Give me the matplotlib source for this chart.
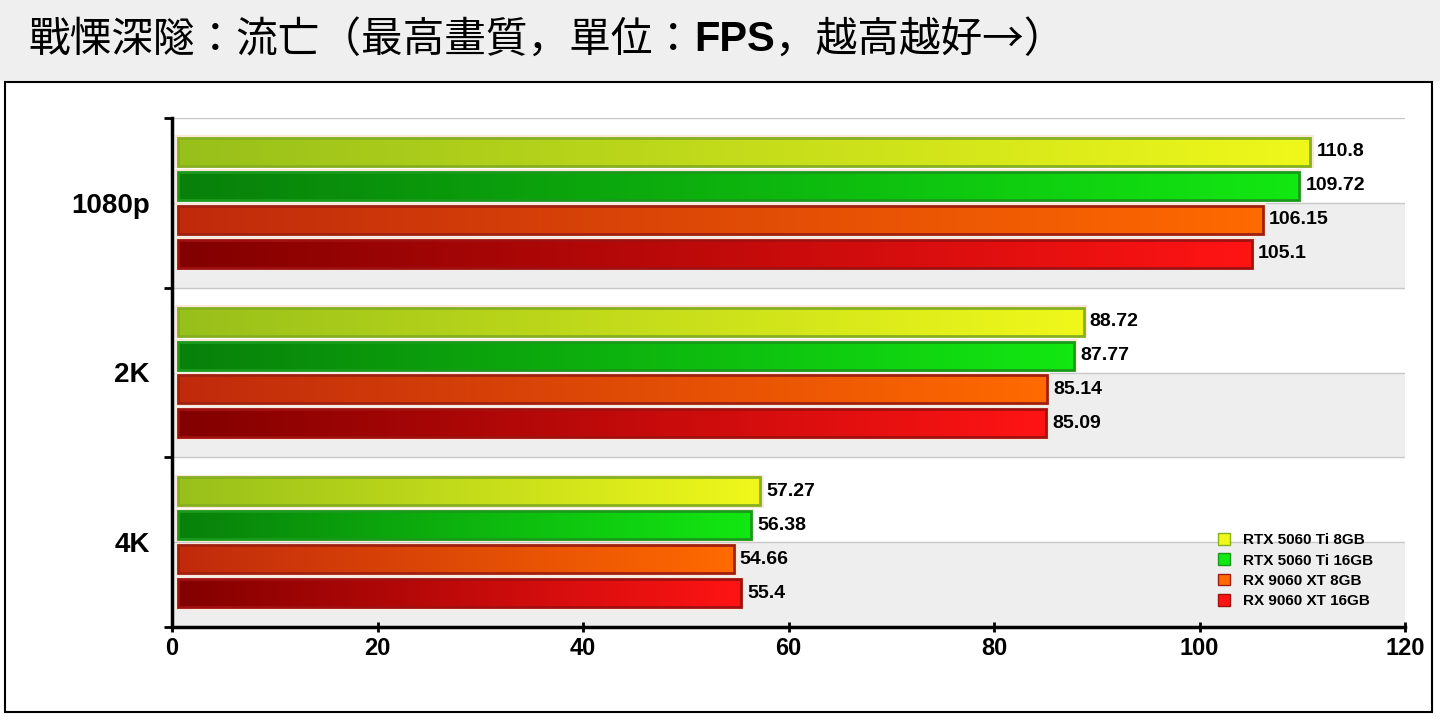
import matplotlib
matplotlib.use("Agg")
import matplotlib.pyplot as plt
import numpy as np
from matplotlib.colors import LinearSegmentedColormap
from matplotlib.patches import Rectangle

categories = ["1080p", "2K", "4K"]
series = ["RTX 5060 Ti 8GB", "RTX 5060 Ti 16GB", "RX 9060 XT 8GB", "RX 9060 XT 16GB"]
v1 = [110.8, 88.72, 57.27]
v2 = [109.72, 87.77, 56.38]
v3 = [106.15, 85.14, 54.66]
v4 = [105.1, 85.09, 55.4]
labels = [["110.8", "88.72", "57.27"], ["109.72", "87.77", "56.38"],
          ["106.15", "85.14", "54.66"], ["105.1", "85.09", "55.4"]]
values = [v1, v2, v3, v4]
grads = [("#98c01a", "#f0f81a", "#86b020"), ("#08800a", "#12e812", "#1a9a1a"),
         ("#c02a0c", "#ff6a00", "#a02010"), ("#820000", "#ff1414", "#a01010")]

CJK = ["Noto Sans CJK TC", "Noto Sans CJK JP", "Noto Sans CJK SC", "DejaVu Sans"]
plt.rcParams["font.family"] = ["Liberation Sans"]
fig = plt.figure(figsize=(14.4, 7.2), dpi=100)
fig.patch.set_facecolor("white")
fig.add_artist(Rectangle((0, 1 - 80/720), 1, 80/720, transform=fig.transFigure,
                         color="#efefef", zorder=0))
fig.add_artist(Rectangle((5/1440, 8/720), 1427/1440, 630/720, transform=fig.transFigure,
                         fill=False, ec="black", lw=1.5))
ty = 1 - 40/720
t1 = fig.text(28/1440, ty, "戰慄深隧：流亡（最高畫質，單位：", fontsize=30,
              family=CJK, va="center", ha="left")
fig.canvas.draw()
x2 = t1.get_window_extent().x1 / 1440
t2 = fig.text(x2, ty, "FPS", fontsize=30, fontweight="bold", family="Liberation Sans",
              va="center", ha="left")
fig.canvas.draw()
x3 = t2.get_window_extent().x1 / 1440
fig.text(x3, ty, "，越高越好→）", fontsize=30, family=CJK, va="center", ha="left")

ax = fig.add_axes([172/1440, 1 - 627/720, (1405-172)/1440, 509/720])
ax.set_xlim(0, 120)
ax.set_ylim(2.5, -0.5)
for g in range(3):
    ax.axhspan(g, g + 0.5, color="#eeeeee", zorder=0)
for yv in np.arange(-0.5, 2.6, 0.5):
    ax.axhline(yv, color="#c8c8c8", lw=1, zorder=0.5)

offs = [-0.3, -0.1, 0.1, 0.3]
h = 0.165
x0 = 0.6
grad = np.linspace(0, 1, 256).reshape(1, -1)
for s in range(4):
    c0, c1, ec = grads[s]
    cmap = LinearSegmentedColormap.from_list("g%d" % s, [c0, c1])
    for g in range(3):
        v = values[s][g]
        y = g + offs[s]
        ax.add_patch(Rectangle((x0 - 0.3, y - h/2 - 0.015), v - x0 + 0.6, h + 0.03,
                               fc="#fbe8d8", ec="none", zorder=1.5))
        ax.imshow(grad, cmap=cmap, aspect="auto", extent=(x0, v, y + h/2, y - h/2), zorder=2)
        ax.add_patch(Rectangle((x0, y - h/2), v - x0, h, fill=False, ec=ec, lw=2, zorder=3))
        ax.text(v + 0.6, y, labels[s][g], va="center", ha="left", fontsize=14,
                fontweight="bold", zorder=4)
ax.set_xlim(0, 120)
ax.set_ylim(2.5, -0.5)
ax.set_yticks([0, 1, 2])
ax.set_yticklabels(categories, fontsize=20, fontweight="bold")
ax.set_yticks([-0.5, 0.5, 1.5, 2.5], minor=True)
ax.tick_params(axis="y", which="major", length=0, pad=16)
ax.tick_params(axis="y", which="minor", length=6, width=2, direction="out")
ax.set_xticks(np.arange(0, 121, 20))
ax.set_xticklabels([str(x) for x in range(0, 121, 20)], fontsize=17, fontweight="bold")
ax.tick_params(axis="x", length=7, width=2, direction="inout")
for sp in ["top", "right"]:
    ax.spines[sp].set_visible(False)
ax.spines["left"].set_linewidth(2.5)
ax.spines["bottom"].set_linewidth(2.5)

handles = [Rectangle((0, 0), 1, 1, fc=grads[s][1], ec=grads[s][2]) for s in range(4)]
ax.legend(handles, series, loc="lower right", bbox_to_anchor=(0.985, 0.01),
          frameon=False, prop={"size": 11, "weight": "bold"},
          handlelength=0.8, handleheight=0.8, labelspacing=0.4, handletextpad=0.8)
fig.savefig("out.png", dpi=100)
